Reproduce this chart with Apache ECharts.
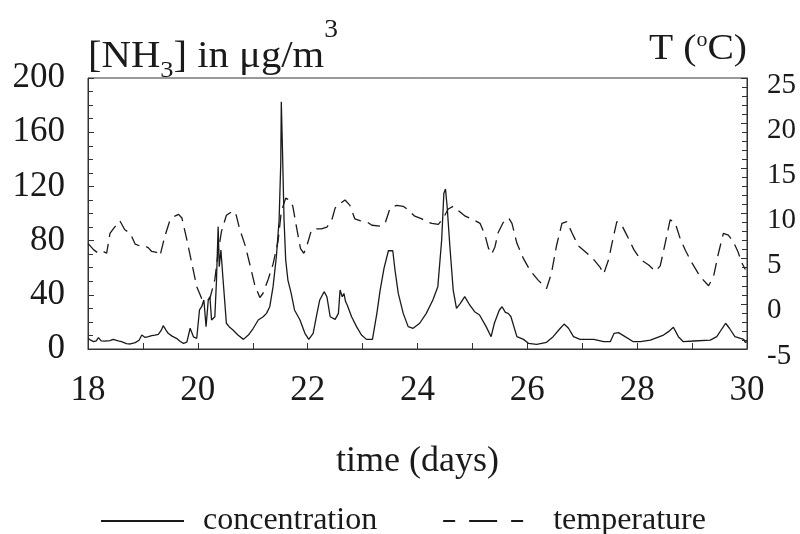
<!DOCTYPE html>
<html><head><meta charset="utf-8">
<script src="https://cdn.jsdelivr.net/npm/echarts@6/dist/echarts.min.js"></script>
<style>html,body{margin:0;padding:0;background:#fff}#c{width:800px;height:534px}</style>
</head><body><div id="c"></div>
<script>
// ---- data ----
const concDays = [18.00,18.05,18.10,18.15,18.19,18.24,18.30,18.40,18.46,18.55,18.61,18.70,18.77,18.86,18.93,18.98,19.04,19.10,19.16,19.22,19.28,19.33,19.37,19.42,19.46,19.53,19.61,19.68,19.74,19.80,19.86,19.92,19.98,20.03,20.07,20.11,20.15,20.19,20.22,20.25,20.31,20.34,20.37,20.39,20.42,20.46,20.52,20.58,20.64,20.73,20.83,20.92,21.01,21.10,21.19,21.25,21.31,21.37,21.43,21.48,21.51,21.52,21.54,21.57,21.60,21.64,21.70,21.76,21.86,21.95,22.02,22.10,22.17,22.22,22.30,22.35,22.41,22.50,22.56,22.59,22.63,22.66,22.69,22.72,22.80,22.89,22.98,23.07,23.18,23.26,23.32,23.39,23.47,23.55,23.59,23.65,23.74,23.83,23.92,24.04,24.16,24.28,24.37,24.44,24.48,24.51,24.54,24.59,24.65,24.71,24.78,24.86,24.95,25.04,25.13,25.25,25.34,25.40,25.49,25.54,25.60,25.65,25.70,25.81,25.93,26.02,26.17,26.35,26.47,26.60,26.67,26.75,26.84,26.96,27.21,27.39,27.51,27.58,27.66,27.78,27.93,28.06,28.24,28.48,28.57,28.66,28.75,28.84,29.03,29.33,29.45,29.55,29.61,29.68,29.78,29.88,29.94,29.97,30.00];
const concValues = [7.9,6.5,5.4,6.0,8.4,6.0,5.8,6.2,7.1,6.0,5.4,4.0,3.7,4.7,6.5,10.3,8.5,9.1,9.8,10.2,10.8,13.5,17.2,14.0,11.6,9.5,7.9,5.5,4.2,5.0,15.3,9.0,7.9,28.8,31.2,36.2,16.5,36.2,38.6,21.4,23.8,50.9,90.3,60.8,73.1,50.9,19.0,16.0,14.0,10.3,7.1,10.3,15.3,21.4,23.8,26.3,31.2,46.0,68.1,95.2,137,182.5,149,95,65.7,50.9,41.0,28.8,21.4,11.6,7.1,11.6,26.3,36.2,42.3,38.6,23.8,21.9,26.3,43.5,38.6,41.0,35.0,32.5,23.8,16.5,10.3,7.1,7.1,26.3,43.5,59.5,72.5,72.5,58.3,41.0,26.3,16.5,15.3,19.0,26.3,36.2,46.0,80.4,115,118,105,75.5,43.5,30.0,33.7,38.6,32.5,27.5,25.1,16.5,9.1,19.0,28.8,31.2,27,26.3,24,9.1,7.1,4.2,3.4,4.9,9.1,15.3,18.4,15.3,9.1,7.1,7.1,5.4,5.4,11.6,12.1,9.1,5.4,5.4,6.6,10.3,12.8,16.0,9.1,5.4,5.9,6.6,9.1,15.3,19.0,15.3,9.1,7.9,7.1,4.9,5.5];
const tempDays = [18.00,18.10,18.19,18.28,18.34,18.40,18.46,18.58,18.67,18.77,18.86,18.95,19.04,19.10,19.16,19.25,19.31,19.40,19.49,19.58,19.65,19.71,19.80,19.89,19.98,20.07,20.15,20.22,20.31,20.37,20.43,20.52,20.64,20.70,20.76,20.86,20.95,21.04,21.13,21.19,21.28,21.37,21.46,21.52,21.60,21.67,21.73,21.79,21.87,21.93,21.98,22.07,22.16,22.25,22.35,22.44,22.50,22.59,22.68,22.77,22.86,22.95,23.07,23.17,23.32,23.41,23.50,23.62,23.74,23.83,23.95,24.08,24.17,24.26,24.38,24.47,24.56,24.65,24.77,24.87,25.02,25.14,25.23,25.29,25.35,25.41,25.47,25.56,25.66,25.72,25.81,25.93,26.05,26.20,26.35,26.44,26.53,26.63,26.72,26.81,26.93,27.05,27.21,27.33,27.39,27.48,27.57,27.63,27.72,27.82,27.94,28.06,28.21,28.33,28.42,28.51,28.60,28.69,28.79,28.88,29.00,29.15,29.30,29.39,29.48,29.57,29.66,29.75,29.84,29.90,29.97];
const tempValues = [6.7,6.0,5.6,5.8,5.6,7.8,8.3,9.2,8.2,7.8,6.6,6.4,6.4,6.2,5.8,5.7,5.3,7.5,9.2,9.7,9.9,9.5,7.1,4.5,1.9,0.6,0.3,0.6,2.7,5.7,8.0,9.8,10.3,9.8,8.3,6.5,4.3,2.0,0.7,1.2,2.7,4.4,6.9,10.2,11.7,11.5,10.8,8.7,6.1,5.6,6.3,8.2,8.3,8.3,8.5,9.3,10.6,11.1,11.5,10.9,9.4,9.2,9.1,8.7,8.6,8.9,10.6,10.9,10.8,10.4,9.7,9.4,9.1,8.9,8.8,9.5,10.5,10.8,10.2,9.7,9.3,8.9,7.6,6.2,5.5,6.3,7.9,9.0,9.5,8.9,6.7,5.0,3.7,2.6,1.7,3.4,6.4,8.9,9.1,7.9,6.4,5.8,4.9,4.0,3.3,4.9,7.5,9.1,8.7,7.5,6.0,4.9,4.3,3.6,4.2,6.7,9.3,9.0,7.1,5.9,4.5,3.0,2.0,3.0,5.6,7.8,7.6,6.9,5.7,4.6,3.8];
const seriesNames = ['concentration', 'temperature'];
const xAxisTitle = 'time (days)';
const leftTitleParts = ['[NH', '3', '] in μg/m', '3'];
const rightTitleParts = ['T (', 'o', 'C)'];

// ---- drawing ----
const FF = '"Liberation Serif", "Times New Roman", serif';
const INK = '#1a1a1a';
const mctx = document.createElement('canvas').getContext('2d');
function tw(text, size) { mctx.font = size + 'px ' + FF; return mctx.measureText(text).width; }

function buildTitle(parts, sizes, mids, startX, sx) {
  const els = [];
  let x = startX;
  parts.forEach((p, i) => {
    els.push({ type: 'text', x: x, y: mids[i], scaleX: sx, silent: true,
      style: { text: p, font: sizes[i] + 'px ' + FF, fill: INK, textAlign: 'left', textVerticalAlign: 'middle' } });
    x += tw(p, sizes[i]) * sx;
  });
  return els;
}
const lSizes = [37, 24, 37, 25], lMids = [57, 71, 57, 30];
const rSizes = [36, 20, 36], rMids = [50, 41, 50];
const SX = 1.1;
let rTotal = 0; rightTitleParts.forEach((p, i) => rTotal += tw(p, rSizes[i]) * SX);
const graphics = buildTitle(leftTitleParts, lSizes, lMids, 88, SX)
  .concat(buildTitle(rightTitleParts, rSizes, rMids, 747 - rTotal, SX));

const tickCol = '#333';
const chart = echarts.init(document.getElementById('c'), null, { renderer: 'canvas' });
chart.setOption({
  animation: false,
  backgroundColor: '#fff',
  grid: { left: 88, right: 53, top: 78, bottom: 185, show: true, borderColor: tickCol, borderWidth: 1, backgroundColor: 'transparent' },
  xAxis: {
    type: 'value', min: 18, max: 30, interval: 2,
    axisLine: { lineStyle: { color: tickCol, width: 1 } },
    axisTick: { inside: true, length: 6, lineStyle: { color: tickCol } },
    minorTick: { show: true, splitNumber: 2, length: 6, lineStyle: { color: tickCol } },
    splitLine: { show: false },
    axisLabel: { fontFamily: FF, fontSize: 35, color: INK, margin: 24 },
    name: xAxisTitle, nameLocation: 'middle', nameGap: 95,
    nameTextStyle: { fontFamily: FF, fontSize: 36, color: INK }
  },
  yAxis: [
    { type: 'value', min: 0, max: 200, interval: 40, position: 'left',
      axisLine: { show: true, lineStyle: { color: tickCol } },
      axisTick: { show: true, inside: true, length: 6, lineStyle: { color: tickCol } },
      minorTick: { show: true, splitNumber: 4, length: 5, lineStyle: { color: tickCol } },
      splitLine: { show: false },
      axisLabel: { fontFamily: FF, fontSize: 35, color: INK, margin: 23 } },
    { type: 'value', min: -5, max: 25, interval: 5, position: 'right',
      axisLine: { show: true, lineStyle: { color: tickCol } },
      axisTick: { show: true, inside: true, length: 6, lineStyle: { color: tickCol } },
      minorTick: { show: true, splitNumber: 5, length: 5, lineStyle: { color: tickCol } },
      splitLine: { show: false },
      axisLabel: { fontFamily: FF, fontSize: 29, color: INK, margin: 20, verticalAlign: 'top', lineHeight: 14 } }
  ],
  legend: {
    left: 95, top: 500, itemWidth: 83, itemHeight: 14, itemGap: 65,
    selectedMode: false,
    itemStyle: { opacity: 0, borderWidth: 0 },
    textStyle: { fontFamily: FF, fontSize: 32, color: INK, padding: [0, 0, 0, 14] },
    data: [
      { name: seriesNames[0] },
      { name: seriesNames[1], lineStyle: { type: [12, 14, 28, 14] },
        textStyle: { padding: [0, 0, 0, 22] } }
    ]
  },
  graphic: graphics,
  series: [
    { type: 'line', name: seriesNames[0], yAxisIndex: 0, symbol: 'none', showSymbol: false,
      data: concDays.map((d, i) => [d, concValues[i]]),
      lineStyle: { color: INK, width: 1.3 }, itemStyle: { color: INK } },
    { type: 'line', name: seriesNames[1], yAxisIndex: 1, symbol: 'none', showSymbol: false,
      data: tempDays.map((d, i) => [d, tempValues[i]]),
      lineStyle: { color: INK, width: 1.3, type: [13, 7] }, itemStyle: { color: INK } }
  ]
});
</script></body></html>
